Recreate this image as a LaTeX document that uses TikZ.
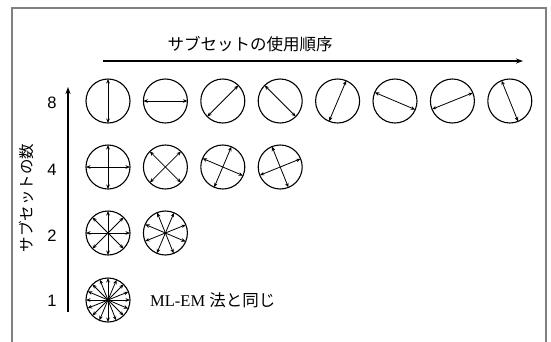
\documentclass[tikz,border=0pt]{standalone}
\usepackage{fontspec}
\setmainfont{Liberation Serif}
\newfontfamily\jp{Noto Sans CJK JP}
\newfontfamily\arialf{Liberation Sans}
\usetikzlibrary{arrows.meta}
\tikzset{
  ring/.style={circle, draw, line width=1.1pt, minimum size=44pt, inner sep=0pt, outer sep=0pt},
  dbl/.style={line width=0.8pt, {Stealth[length=4.5pt,width=3.6pt]}-{Stealth[length=4.5pt,width=3.6pt]}},
  frame/.style={draw=black!50, line width=1.4pt},
  mainarrow/.style={line width=1.4pt, -{Stealth[length=7pt,width=5pt]}},
  numlbl/.style={font=\arialf\fontsize{16.5}{17}\selectfont, inner sep=0pt},
  jplbl/.style={font=\jp\fontsize{15.5}{16}\selectfont, inner sep=0pt}
}
\begin{document}
\begin{tikzpicture}[x=1pt,y=-1pt]
\useasboundingbox (0,0) rectangle (551,341);
% frame (open at the bottom)
\coordinate (fbl) at (12,345);
\coordinate (ftl) at (12,8);
\coordinate (ftr) at (546,8);
\coordinate (fbr) at (546,345);
\draw[frame] (fbl) -- (ftl) -- (ftr) -- (fbr);
% title and horizontal arrow
\node[jplbl, font=\jp\fontsize{16.5}{17}\selectfont] (title) at (250,44) {サブセットの使用順序};
\coordinate (hs) at (103,61);
\coordinate (he) at (523,61);
\draw[mainarrow] (hs) -- (he);
% vertical arrow
\coordinate (vs) at (68,312);
\coordinate (ve) at (68,87);
\draw[mainarrow, line width=1.8pt] (vs) -- (ve);
\node[jplbl, rotate=90] (ylbl) at (27,198) {サブセットの数};
% numbers
\node[numlbl] (n8) at (52,103) {8};
\node[numlbl] (n4) at (52,170) {4};
\node[numlbl] (n2) at (52,236) {2};
\node[numlbl] (n1) at (52,301) {1};
% row 8
\foreach \a [count=\i from 0] in {90,0,45,135,67.5,157.5,22.5,112.5} {
  \pgfmathsetmacro\b{\a+180}
  \node[ring] (r8c\i) at ({108+57.4*\i},101) {};
  \draw[dbl] (r8c\i.\a) -- (r8c\i.\b);
}
% row 4
\foreach \a/\c [count=\i from 0] in {0/90,45/135,67.5/157.5,22.5/112.5} {
  \pgfmathsetmacro\b{\a+180}
  \pgfmathsetmacro\d{\c+180}
  \node[ring] (r4c\i) at ({108+57.4*\i},167) {};
  \draw[dbl] (r4c\i.\a) -- (r4c\i.\b);
  \draw[dbl] (r4c\i.\c) -- (r4c\i.\d);
}
% row 2
\node[ring] (r2c0) at (108,233) {};
\foreach \a in {0,45,90,135} {
  \pgfmathsetmacro\b{\a+180}
  \draw[dbl] (r2c0.\a) -- (r2c0.\b);
}
\node[ring] (r2c1) at (165.4,233) {};
\foreach \a in {22.5,67.5,112.5,157.5} {
  \pgfmathsetmacro\b{\a+180}
  \draw[dbl] (r2c1.\a) -- (r2c1.\b);
}
% row 1
\node[ring] (r1c0) at (108,300) {};
\foreach \a in {0,22.5,45,67.5,90,112.5,135,157.5} {
  \pgfmathsetmacro\b{\a+180}
  \draw[dbl] (r1c0.\a) -- (r1c0.\b);
}
\node[anchor=west, inner sep=0pt] (same) at (150,300) {\fontsize{16.5}{17}\selectfont ML-EM {\jp 法と同じ}};
\end{tikzpicture}
\end{document}
